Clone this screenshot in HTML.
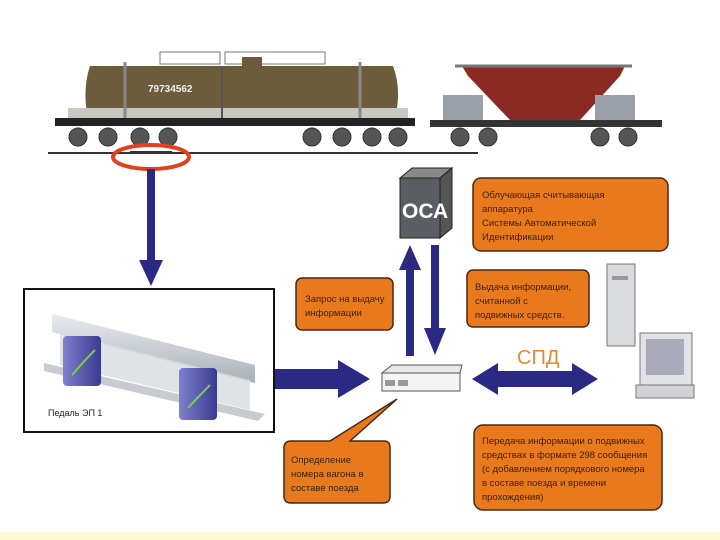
<!DOCTYPE html>
<html><head><meta charset="utf-8"><style>
html,body{margin:0;padding:0;background:#fff;}
svg{display:block;font-family:"Liberation Sans",sans-serif;}
.t{font-size:9.5px;fill:#3a2410;}
</style></head><body>
<svg width="720" height="540" viewBox="0 0 720 540" xmlns="http://www.w3.org/2000/svg">
<defs>
<linearGradient id="rail" x1="0" y1="0" x2="0" y2="1"><stop offset="0" stop-color="#e8ecf0"/><stop offset="1" stop-color="#a8b0b8"/></linearGradient>
<linearGradient id="ped" x1="0" y1="0" x2="1" y2="0"><stop offset="0" stop-color="#8080d0"/><stop offset="1" stop-color="#3a3a90"/></linearGradient>
</defs>
<!-- tank car -->
<rect x="160" y="52" width="60" height="12" fill="none" stroke="#777" stroke-width="1"/>
<rect x="225" y="52" width="100" height="12" fill="none" stroke="#777" stroke-width="1"/>
<rect x="242" y="57" width="20" height="9" fill="#6b5a3a"/>
<path d="M90 66 Q82 90 88 118 L285 118 L395 118 Q402 90 393 66 Z" fill="#6d5c3c"/>
<rect x="68" y="108" width="340" height="10" fill="#c8c8c0"/>
<rect x="55" y="118" width="360" height="8" fill="#222"/>
<line x1="125" y1="62" x2="125" y2="118" stroke="#888" stroke-width="3"/>
<line x1="360" y1="62" x2="360" y2="118" stroke="#888" stroke-width="3"/>
<line x1="222" y1="66" x2="222" y2="118" stroke="#555" stroke-width="2"/>
<text x="148" y="92" font-size="10" fill="#eee" font-weight="bold">79734562</text>
<g fill="#555" stroke="#333">
<circle cx="78" cy="137" r="9"/><circle cx="108" cy="137" r="9"/><circle cx="140" cy="137" r="9"/><circle cx="168" cy="137" r="9"/>
<circle cx="312" cy="137" r="9"/><circle cx="342" cy="137" r="9"/><circle cx="372" cy="137" r="9"/><circle cx="398" cy="137" r="9"/>
<circle cx="460" cy="137" r="9"/><circle cx="488" cy="137" r="9"/><circle cx="600" cy="137" r="9"/><circle cx="628" cy="137" r="9"/>
</g>
<!-- hopper -->
<path d="M462 66 L625 66 L620 76 L580 120 L510 120 L468 76 Z" fill="#8a2a22"/>
<line x1="455" y1="66" x2="632" y2="66" stroke="#777" stroke-width="3"/>
<rect x="430" y="120" width="232" height="7" fill="#333"/>
<rect x="443" y="95" width="40" height="25" fill="#9aa0a8"/>
<rect x="595" y="95" width="40" height="25" fill="#9aa0a8"/>
<!-- rail -->
<line x1="48" y1="153" x2="478" y2="153" stroke="#333" stroke-width="2"/>
<ellipse cx="151" cy="157" rx="38" ry="12" fill="none" stroke="#e2401e" stroke-width="4"/>
<line x1="130" y1="152" x2="172" y2="152" stroke="#333" stroke-width="2"/>
<!-- vertical arrow -->
<rect x="147" y="169" width="8" height="93" fill="#2a2a85"/>
<path d="M139 260 L163 260 L151 286 Z" fill="#2a2a85"/>
<!-- pedal box -->
<rect x="24" y="289" width="250" height="143" fill="#fff" stroke="#111" stroke-width="2"/>
<path d="M52 314 L255 365 L255 383 L52 332 Z" fill="url(#rail)"/>
<path d="M44 363 L265 414 L258 421 L44 371 Z" fill="#c8ccd0"/>
<path d="M60 332 L250 380 L250 410 L60 365 Z" fill="#d8dce0" opacity="0.8"/>
<rect x="63" y="336" width="38" height="50" rx="4" fill="url(#ped)"/>
<rect x="179" y="368" width="38" height="52" rx="4" fill="url(#ped)"/>
<path d="M72 375 Q85 360 95 350" stroke="#7c4" stroke-width="2" fill="none"/>
<path d="M188 408 Q200 395 210 385" stroke="#7c4" stroke-width="2" fill="none"/>
<text x="48" y="416" font-size="9" fill="#222">Педаль ЭП 1</text>
<!-- right arrow from box -->
<rect x="275" y="369" width="65" height="20" fill="#2a2a85"/>
<path d="M338 360 L370 379 L338 398 Z" fill="#2a2a85"/>
<!-- router -->
<path d="M382 373 L392 365 L462 365 L460 373 Z" fill="#e8e8e8" stroke="#555"/>
<rect x="382" y="373" width="78" height="18" fill="#f4f4f4" stroke="#555"/>
<rect x="385" y="380" width="10" height="6" fill="#999"/><rect x="398" y="380" width="10" height="6" fill="#999"/>
<!-- OCA cube -->
<path d="M400 178 L412 168 L452 168 L440 178 Z" fill="#888" stroke="#222"/>
<path d="M440 178 L452 168 L452 228 L440 238 Z" fill="#555" stroke="#222"/>
<rect x="400" y="178" width="40" height="60" fill="#5a5e64" stroke="#222"/>
<text x="402" y="218" font-size="21" fill="#fff" font-weight="bold">ОСА</text>
<!-- vertical arrows -->
<rect x="406" y="268" width="8" height="88" fill="#2a2a85"/>
<path d="M399 270 L421 270 L410 245 Z" fill="#2a2a85"/>
<rect x="431" y="245" width="8" height="85" fill="#2a2a85"/>
<path d="M424 328 L446 328 L435 355 Z" fill="#2a2a85"/>
<!-- orange boxes -->
<g fill="#e8791c" stroke="#4a2810" stroke-width="1.5">
<rect x="473" y="178" width="195" height="73" rx="8"/>
<rect x="296" y="278" width="97" height="52" rx="6"/>
<rect x="467" y="270" width="122" height="57" rx="6"/>
<rect x="474" y="425" width="188" height="85" rx="9"/>
<path d="M300 441 L330 441 L397 399 L350 441 L384 441 Q390 441 390 448 L390 496 Q390 503 383 503 L291 503 Q284 503 284 496 L284 448 Q284 441 291 441 Z"/>
</g>
<g class="t">
<text x="482" y="198">Облучающая считывающая</text>
<text x="482" y="212">аппаратура</text>
<text x="482" y="226">Системы Автоматической</text>
<text x="482" y="240">Идентификации</text>
<text x="305" y="302">Запрос на выдачу</text>
<text x="305" y="316">информации</text>
<text x="475" y="290">Выдача информации,</text>
<text x="475" y="304">считанной с</text>
<text x="475" y="318">подвижных средств.</text>
<text x="291" y="463">Определение</text>
<text x="291" y="477">номера вагона в</text>
<text x="291" y="491">составе поезда</text>
<text x="482" y="444">Передача информации о подвижных</text>
<text x="482" y="458">средствах в формате 298 сообщения</text>
<text x="482" y="472">(с добавлением порядкового номера</text>
<text x="482" y="486">в составе поезда и времени</text>
<text x="482" y="500">прохождения)</text>
</g>
<!-- SPD -->
<text x="517" y="364" font-size="20" fill="#e08a3a">СПД</text>
<path d="M472 379 L498 363 L498 371 L572 371 L572 363 L598 379 L572 395 L572 387 L498 387 L498 395 Z" fill="#2a2a85"/>
<!-- computer -->
<rect x="607" y="264" width="28" height="82" fill="#d8dade" stroke="#777"/>
<rect x="612" y="276" width="16" height="4" fill="#999"/>
<rect x="640" y="333" width="52" height="52" fill="#e0e2e6" stroke="#777"/>
<rect x="646" y="339" width="38" height="36" fill="#aab"/>
<rect x="636" y="385" width="58" height="13" fill="#d0d2d6" stroke="#777"/>
<!-- bottom strip -->
<rect x="0" y="532" width="720" height="8" fill="#fdf7d6"/>
</svg>
</body></html>
